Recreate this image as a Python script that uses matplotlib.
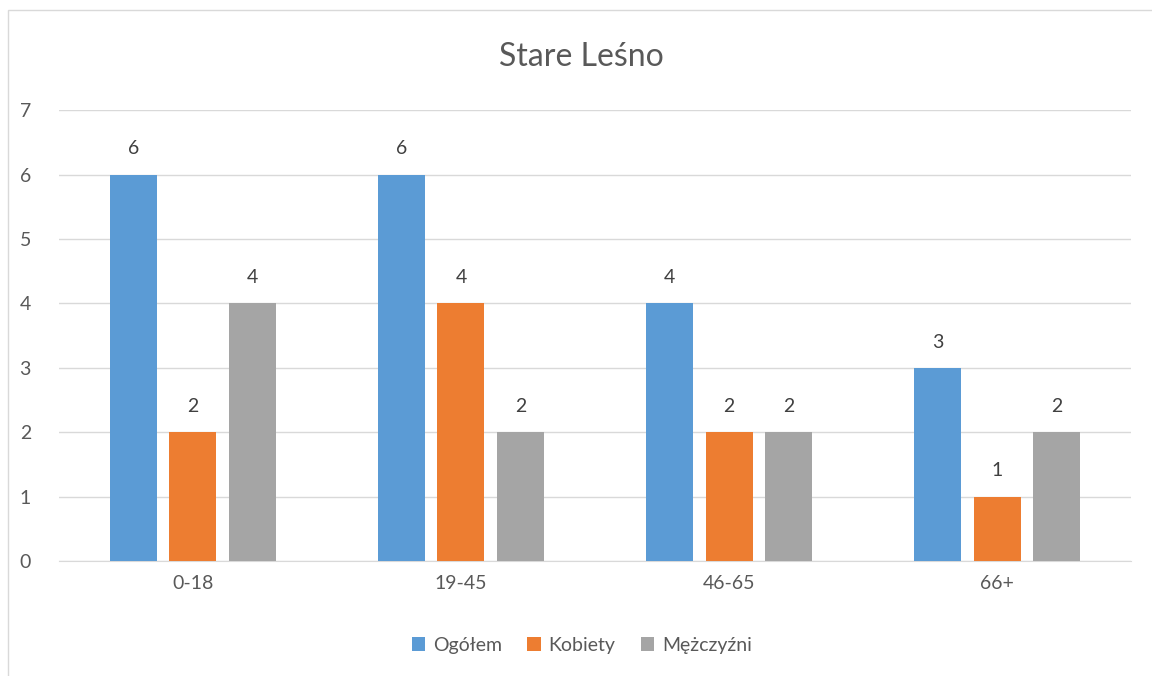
import numpy as np
import matplotlib.pyplot as plt
from matplotlib.patches import Rectangle

categories = ['0-18', '19-45', '46-65', '66+']
series_names = ['Ogółem', 'Kobiety', 'Mężczyźni']
ogolem = [6, 6, 4, 3]
kobiety = [2, 4, 2, 1]
mezczyzni = [4, 2, 2, 2]
colors = ['#5B9BD5', '#ED7D31', '#A5A5A5']

plt.rcParams['font.family'] = ['Lato', 'DejaVu Sans']
text_color = '#595959'

fig = plt.figure(figsize=(11.52, 6.76), dpi=100)
ax = fig.add_axes([0.051, 0.170, 0.931, 0.667])

x = np.arange(len(categories))
width = 0.175
step = 0.222
for i, (name, vals) in enumerate(zip(series_names, [ogolem, kobiety, mezczyzni])):
    bars = ax.bar(x + (i - 1) * step, vals, width, color=colors[i], label=name, zorder=3)
    for b, v in zip(bars, vals):
        ax.text(b.get_x() + b.get_width() / 2, v + 0.4, str(v),
                ha='center', va='center', fontsize=14, color='#404040')

ax.set_xlim(-0.5, len(categories) - 0.5)
ax.set_ylim(0, 7)
ax.set_yticks(range(0, 8))
ax.set_xticks(x)
ax.set_xticklabels(categories)
ax.yaxis.grid(True, color='#D9D9D9', linewidth=1, zorder=0)
for s in ['top', 'right', 'left']:
    ax.spines[s].set_visible(False)
ax.spines['bottom'].set_color('#D9D9D9')
ax.tick_params(axis='both', length=0, labelsize=14, colors=text_color)
ax.tick_params(axis='y', pad=20)
ax.tick_params(axis='x', pad=10)

fig.text(0.505, 0.915, 'Stare Leśno', ha='center', va='center', fontsize=23, color=text_color)

leg = fig.legend(loc='center', bbox_to_anchor=(0.505, 0.045), ncol=3, frameon=False,
                 fontsize=14, handlelength=0.7, handleheight=0.7, handletextpad=0.4,
                 columnspacing=1.3)
for t in leg.get_texts():
    t.set_color(text_color)

fig.patches.append(Rectangle((0.007, -0.01), 1.1, 0.995, transform=fig.transFigure,
                             fill=False, edgecolor='#D9D9D9', linewidth=1))

fig.savefig('out.png', dpi=100)
